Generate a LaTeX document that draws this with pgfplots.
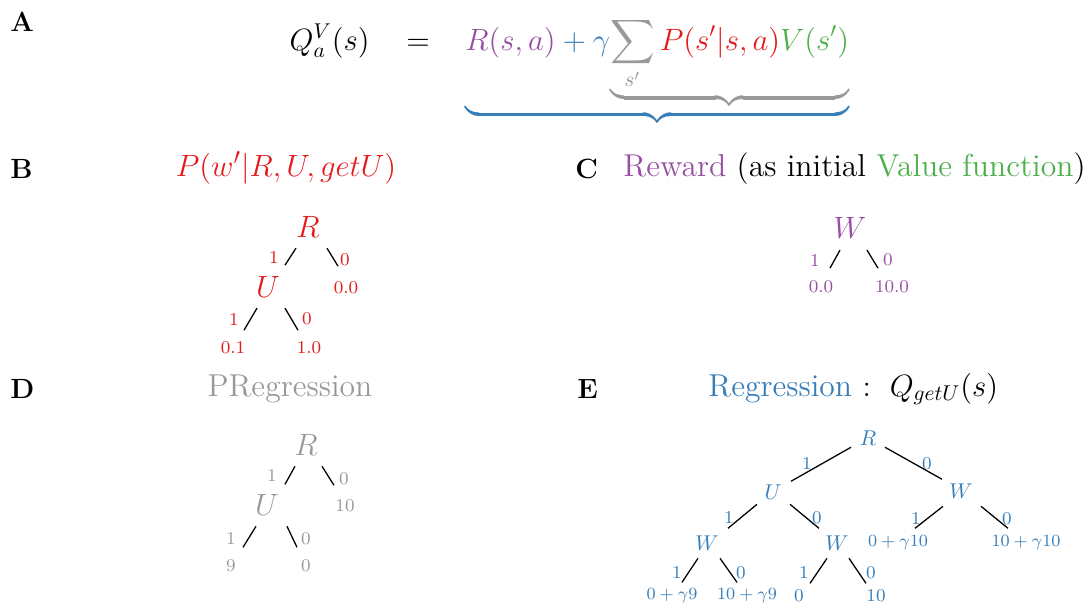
\documentclass[border=0pt]{standalone}
\usepackage{pgfplots}
\pgfplotsset{compat=1.18}
\usepackage{amsmath}
\definecolor{cpurple}{HTML}{984EA3}
\definecolor{cred}{HTML}{E41A1C}
\definecolor{cgreen}{HTML}{4DAF4A}
\definecolor{cblue}{HTML}{377EB8}
\definecolor{cgray}{HTML}{999999}
\newcommand{\panel}{\fontsize{13}{15}\selectfont\bfseries}
\newcommand{\ttl}{\fontsize{14.8}{17}\selectfont}
\newcommand{\nodesz}{\fontsize{14}{16}\selectfont}
\newcommand{\sml}{\fontsize{8.4}{10}\selectfont}
\begin{document}
\begin{tikzpicture}[every node/.style={inner sep=0pt}]
\begin{axis}[scale only axis, width=509pt, height=282pt,
  xmin=0, xmax=1089, ymin=0, ymax=603, y dir=reverse,
  hide axis, clip=false, unbounded coords=jump]
% tree edges (pixel coordinates, y down)
\addplot[black, line width=0.6pt, mark=none] coordinates {
  (296,248) (285,265) (nan,nan) (327,248) (338,266) (nan,nan)
  (257,308) (244,330) (nan,nan) (285,308) (298,330) (nan,nan)
  (840,250) (830,268) (nan,nan) (867,250) (878,268) (nan,nan)
  (295,466) (285,484) (nan,nan) (322,466) (334,485) (nan,nan)
  (256,526) (243,547) (nan,nan) (287,526) (297,547) (nan,nan)
  (851,447) (791,481) (nan,nan) (885,447) (942,479) (nan,nan)
  (757,504) (728,528) (nan,nan) (790,504) (819,528) (nan,nan)
  (943,506) (915,528) (nan,nan) (981,506) (1008,528) (nan,nan)
  (698,558) (682,582) (nan,nan) (720,558) (737,582) (nan,nan)
  (827,558) (810,583) (nan,nan) (849,558) (866,583)
};
% panel letters
\node[anchor=base west, font=\panel] at (axis cs:10,31) {A};
\node[anchor=base west, font=\panel] at (axis cs:10,178) {B};
\node[anchor=base west, font=\panel] at (axis cs:575,178) {C};
\node[anchor=base west, font=\panel] at (axis cs:10,398) {D};
\node[anchor=base west, font=\panel] at (axis cs:577,398) {E};
% A: equation
\node[anchor=base east, font=\ttl] at (axis cs:370,50) {$Q_a^V(s)$};
\node[anchor=base, font=\ttl] at (axis cs:418,50) {$=$};
\node[anchor=base west, font=\ttl] at (axis cs:465,50)
  {$\displaystyle\color{cblue}\underbrace{{\color{cpurple}R(s,a)}+\gamma
   {\color{cgray}\underbrace{\sum_{s'}{\color{cred}P(s'|s,a)}{\color{cgreen}V(s')}}}}$};
% B
\node[anchor=base, font=\fontsize{15.3}{18}\selectfont, text=cred] at (axis cs:286,176) {$P(w'|R,U,getU)$};
\begin{scope}[every node/.style={text=cred}]
\node[font=\nodesz] at (axis cs:308,227) {$R$};
\node[font=\nodesz] at (axis cs:268,287) {$U$};
\node[font=\sml] at (axis cs:274,257) {1};
\node[font=\sml] at (axis cs:345,260) {0};
\node[font=\sml] at (axis cs:346,288) {0.0};
\node[font=\sml] at (axis cs:234,319) {1};
\node[font=\sml] at (axis cs:307,319) {0};
\node[font=\sml] at (axis cs:233,348) {0.1};
\node[font=\sml] at (axis cs:309,348) {1.0};
\end{scope}
% C
\node[anchor=base west, font=\ttl] at (axis cs:623,176)
  {\textcolor{cpurple}{Reward} (as initial \textcolor{cgreen}{Value function})};
\begin{scope}[every node/.style={text=cpurple}]
\node[font=\nodesz] at (axis cs:850,228) {$W$};
\node[font=\sml] at (axis cs:815,260) {1};
\node[font=\sml] at (axis cs:888,260) {0};
\node[font=\sml] at (axis cs:821,287) {0.0};
\node[font=\sml] at (axis cs:892,287) {10.0};
\end{scope}
% D
\node[anchor=base, font=\ttl, text=cgray] at (axis cs:290,396) {PRegression};
\begin{scope}[every node/.style={text=cgray}]
\node[font=\nodesz] at (axis cs:306,445) {$R$};
\node[font=\nodesz] at (axis cs:267,505) {$U$};
\node[font=\sml] at (axis cs:272,475) {1};
\node[font=\sml] at (axis cs:344,478) {0};
\node[font=\sml] at (axis cs:345,505) {10};
\node[font=\sml] at (axis cs:231,538) {1};
\node[font=\sml] at (axis cs:306,538) {0};
\node[font=\sml] at (axis cs:231,565) {9};
\node[font=\sml] at (axis cs:306,565) {0};
\end{scope}
% E
\node[anchor=base west, font=\ttl] at (axis cs:708,396)
  {\textcolor{cblue}{Regression} $:\ Q_{getU}(s)$};
\begin{scope}[every node/.style={text=cblue}]
\node[font=\normalsize] at (axis cs:868,438) {$R$};
\node[font=\normalsize] at (axis cs:773,492) {$U$};
\node[font=\normalsize] at (axis cs:961,491) {$W$};
\node[font=\normalsize] at (axis cs:707,543) {$W$};
\node[font=\normalsize] at (axis cs:837,543) {$W$};
\node[font=\sml] at (axis cs:807,463) {1};
\node[font=\sml] at (axis cs:927,463) {0};
\node[font=\sml] at (axis cs:729,517) {1};
\node[font=\sml] at (axis cs:817,517) {0};
\node[font=\sml] at (axis cs:916,518) {1};
\node[font=\sml] at (axis cs:1007,518) {0};
\node[font=\sml] at (axis cs:898,542) {$0+\gamma10$};
\node[font=\sml] at (axis cs:1026,542) {$10+\gamma10$};
\node[font=\sml] at (axis cs:677,572) {1};
\node[font=\sml] at (axis cs:741,572) {0};
\node[font=\sml] at (axis cs:804,572) {1};
\node[font=\sml] at (axis cs:871,572) {0};
\node[font=\sml] at (axis cs:672,595) {$0+\gamma9$};
\node[font=\sml] at (axis cs:747,595) {$10+\gamma9$};
\node[font=\sml] at (axis cs:799,595) {0};
\node[font=\sml] at (axis cs:876,595) {10};
\end{scope}
\end{axis}
\pgfresetboundingbox
\path[use as bounding box] (current axis.south west) rectangle (current axis.north east);
\end{tikzpicture}
\end{document}
